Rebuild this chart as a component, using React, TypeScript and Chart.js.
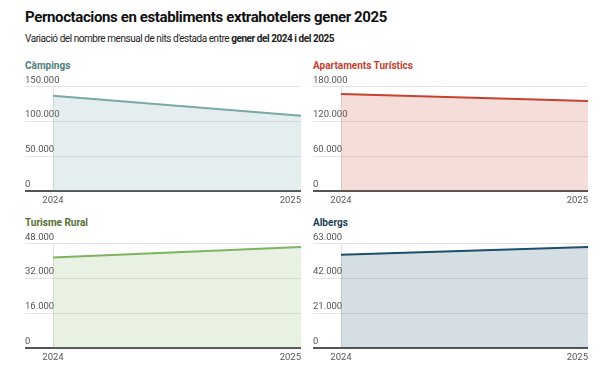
import { useEffect, useRef } from 'react';
import { Chart, registerables } from 'chart.js';

Chart.register(...registerables);
Chart.defaults.font.family = "Roboto, 'Noto Sans', sans-serif";

const years = ['2024', '2025'];
const campingsValues = [137000, 108300];
const apartamentsValues = [167400, 155300];
const ruralValues = [41700, 46500];
const albergsValues = [56400, 61000];
const campingsTicks = [0, 50000, 100000, 150000];
const apartamentsTicks = [0, 60000, 120000, 180000];
const ruralTicks = [0, 16000, 32000, 48000];
const albergsTicks = [0, 21000, 42000, 63000];

const fmt = (v: number) => String(v).replace(/\B(?=(\d{3})+(?!\d))/g, '.');

type PanelProps = {
  title: string;
  titleColor: string;
  values: number[];
  ticks: number[];
  line: string;
  fill: string;
  left: number;
  top: number;
  width: number;
};

const CANVAS_H = 139;
const AXIS_W = 28;

function Panel({ title, titleColor, values, ticks, line, fill, left, top, width }: PanelProps) {
  const ref = useRef<HTMLCanvasElement>(null);
  useEffect(() => {
    const chart = new Chart(ref.current as HTMLCanvasElement, {
      type: 'line',
      data: {
        labels: years,
        datasets: [
          {
            data: values,
            borderColor: line,
            backgroundColor: fill,
            fill: 'origin',
            borderWidth: 2,
            pointRadius: 0,
            tension: 0,
          },
        ],
      },
      options: {
        animation: false,
        responsive: false,
        maintainAspectRatio: false,
        layout: { padding: { top: 16.7, left: 0, right: 0, bottom: 0 } },
        plugins: {
          legend: { display: false },
          tooltip: { enabled: false },
          title: { display: false },
        },
        scales: {
          x: {
            type: 'category',
            offset: false,
            border: { display: false },
            grid: { color: '#e4e4e4', drawTicks: false, lineWidth: 1 },
            ticks: {
              align: 'inner',
              autoSkip: false,
              maxRotation: 0,
              padding: 4,
              color: '#555',
              font: { size: 9.5 },
              callback: function (this: any, value: any, index: number) {
                return index === 0 ? '' : this.getLabelForValue(value);
              },
            },
            afterBuildTicks: (s: any) => {
              s.ticks = [{ value: 0 }, ...years.map((_, i) => ({ value: i }))];
            },
            afterFit: (s: any) => {
              s.height = 18;
              s.paddingLeft = 0;
              s.paddingRight = 0;
            },
          },
          y: {
            min: 0,
            max: ticks[ticks.length - 1],
            border: { display: false },
            grid: {
              color: (ctx: any) => (ctx.tick && ctx.tick.value === 0 ? '#555' : '#e4e4e4'),
              lineWidth: (ctx: any) => (ctx.tick && ctx.tick.value === 0 ? 2 : 1),
              drawTicks: true,
              tickLength: AXIS_W,
            },
            ticks: {
              mirror: true,
              crossAlign: 'near',
              padding: -AXIS_W,
              labelOffset: -6.5,
              color: '#555',
              font: { size: 9.5 },
              callback: (v: any) => fmt(Number(v)),
            },
            afterBuildTicks: (s: any) => {
              s.ticks = ticks.map((v) => ({ value: v }));
            },
            afterFit: (s: any) => {
              s.width = AXIS_W;
            },
          },
        },
      },
    } as any);
    return () => chart.destroy();
  }, []);

  return (
    <>
      <div
        style={{
          position: 'absolute',
          left,
          top: top - 10.3,
          font: "bold 10px Roboto, 'Noto Sans', sans-serif",
          lineHeight: '12px',
          color: titleColor,
          whiteSpace: 'nowrap',
        }}
      >
        {title}
      </div>
      <canvas
        ref={ref}
        width={width}
        height={CANVAS_H}
        style={{ position: 'absolute', left, top, width, height: CANVAS_H, display: 'block' }}
      />
    </>
  );
}

export default function App() {
  return (
    <div
      style={{
        position: 'fixed',
        left: 0,
        top: 0,
        width: 603,
        height: 375,
        background: '#fff',
        overflow: 'hidden',
        fontFamily: "Roboto, 'Noto Sans', sans-serif",
      }}
    >
      <div
        style={{
          position: 'absolute',
          left: 25,
          top: 8,
          font: "bold 15px Roboto, 'Noto Sans', sans-serif",
          letterSpacing: '-0.38px',
          lineHeight: '18px',
          color: '#111',
          whiteSpace: 'nowrap',
        }}
      >
        Pernoctacions en establiments extrahotelers gener 2025
      </div>
      <div
        style={{
          position: 'absolute',
          left: 25,
          top: 31.5,
          font: "10px Roboto, 'Noto Sans', sans-serif",
          letterSpacing: '-0.45px',
          lineHeight: '13px',
          color: '#222',
          whiteSpace: 'nowrap',
        }}
      >
        Variació del nombre mensual de nits d'estada entre <b>gener del 2024 i del 2025</b>
      </div>
      <Panel
        title="Càmpings"
        titleColor="#4d7e7e"
        values={campingsValues}
        ticks={campingsTicks}
        line="#7aa8a8"
        fill="rgba(122,168,168,0.2)"
        left={25}
        top={70}
        width={276}
      />
      <Panel
        title="Apartaments Turístics"
        titleColor="#c4412f"
        values={apartamentsValues}
        ticks={apartamentsTicks}
        line="#c8412e"
        fill="rgba(200,65,46,0.18)"
        left={313}
        top={70}
        width={275}
      />
      <Panel
        title="Turisme Rural"
        titleColor="#55702f"
        values={ruralValues}
        ticks={ruralTicks}
        line="#7db45f"
        fill="rgba(125,180,95,0.18)"
        left={25}
        top={227}
        width={276}
      />
      <Panel
        title="Albergs"
        titleColor="#1f3f5e"
        values={albergsValues}
        ticks={albergsTicks}
        line="#1b4f6b"
        fill="rgba(27,79,107,0.19)"
        left={313}
        top={227}
        width={275}
      />
    </div>
  );
}
